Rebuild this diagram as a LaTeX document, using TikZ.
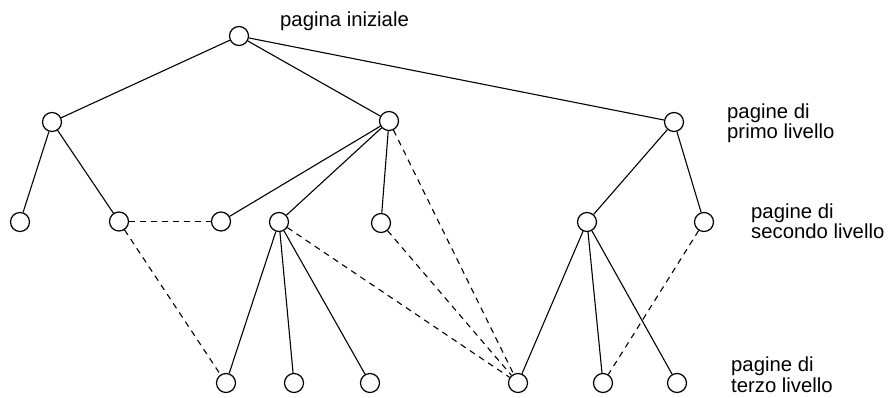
\documentclass[tikz,border=0pt]{standalone}
\usepackage{fontspec}
\setmainfont{Liberation Sans}
\begin{document}
\begin{tikzpicture}[x=1pt,y=-1pt,
  pg/.style={circle,draw,line width=1.2pt,minimum size=19pt,inner sep=0pt,fill=white},
  solidedge/.style={line width=1.1pt},
  dashedge/.style={line width=1.1pt,dash pattern=on 6pt off 5pt},
  lbl/.style={anchor=base west,align=left,inner sep=0pt,font=\fontsize{20.3}{20.2}\selectfont}]
\useasboundingbox (0,0) rectangle (892,398);
% root
\node[pg] (r) at (239,36) {};
% level 1
\node[pg] (a) at (52,122) {};
\node[pg] (b) at (389,121) {};
\node[pg] (c) at (674,122) {};
% level 2
\node[pg] (a1) at (20,222) {};
\node[pg] (a2) at (119,221.5) {};
\node[pg] (b1) at (221,221.5) {};
\node[pg] (b2) at (279,222) {};
\node[pg] (b3) at (381,223) {};
\node[pg] (c1) at (587,222) {};
\node[pg] (c2) at (704,222) {};
% level 3
\node[pg] (t1) at (226,383) {};
\node[pg] (t2) at (294,383) {};
\node[pg] (t3) at (370,383) {};
\node[pg] (t4) at (518,383) {};
\node[pg] (t5) at (603,383) {};
\node[pg] (t6) at (677,383) {};
% solid edges
\draw[solidedge] (r) -- (a);
\draw[solidedge] (r) -- (b);
\draw[solidedge] (r) -- (c);
\draw[solidedge] (a) -- (a1);
\draw[solidedge] (a) -- (a2);
\draw[solidedge] (b) -- (b1);
\draw[solidedge] (b) -- (b2);
\draw[solidedge] (b) -- (b3);
\draw[solidedge] (c) -- (c1);
\draw[solidedge] (c) -- (c2);
\draw[solidedge] (b2) -- (t1);
\draw[solidedge] (b2) -- (t2);
\draw[solidedge] (b2) -- (t3);
\draw[solidedge] (c1) -- (t4);
\draw[solidedge] (c1) -- (t5);
\draw[solidedge] (c1) -- (t6);
% dashed edges
\draw[dashedge] (a2) -- (b1);
\draw[dashedge] (a2) -- (t1);
\draw[dashedge] (b) -- (t4);
\draw[dashedge] (b2) -- (t4);
\draw[dashedge] (b3) -- (t4);
\draw[dashedge] (c2) -- (t5);
% labels
\node[lbl] (l0) at (280,26.5) {pagina iniziale};
\node[lbl] (l1) at (727,138.5) {pagine di\\primo livello};
\node[lbl] (l2) at (751,238.5) {pagine di\\secondo livello};
\node[lbl] (l3) at (731,392) {pagine di\\terzo livello};
\end{tikzpicture}
\end{document}
